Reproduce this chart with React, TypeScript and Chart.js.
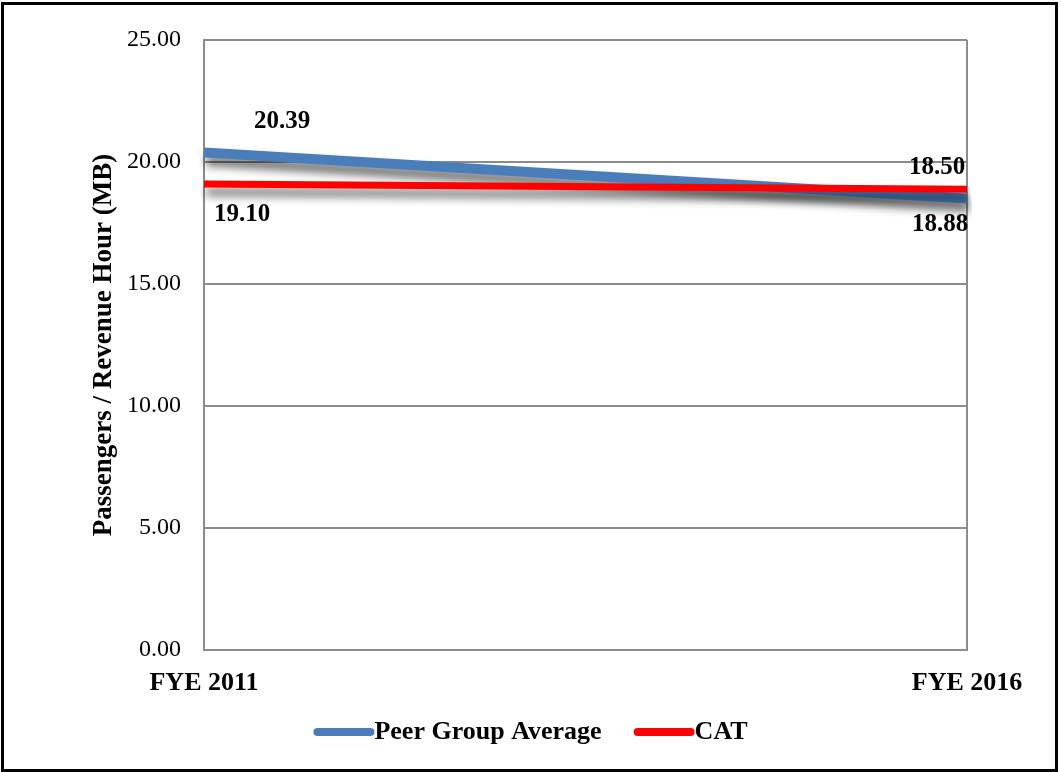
import React, { useEffect, useRef } from 'react';
import { Chart, registerables } from 'chart.js';

Chart.register(...registerables);

const categories = ['FYE 2011', 'FYE 2016'];
const peerGroupAverage = [20.39, 18.5];
const catValues = [19.1, 18.88];
const yTickValues = [0, 5, 10, 15, 20, 25];
const seriesNames = ['Peer Group Average', 'CAT'];
const yAxisTitle = 'Passengers / Revenue Hour (MB)';

const FONT = "'Liberation Serif', 'Times New Roman', serif";
const BLUE = '#4a7ebb';
const RED = '#ff0000';
const GRID = '#8c8c8c';

// label placement offsets (style only)
const labelOffsets = [
  [{ dx: 78, dy: -31 }, { dx: -30, dy: -31 }],
  [{ dx: 38, dy: 31 }, { dx: -27, dy: 35 }],
];

const shadowPlugin = {
  id: 'lineShadow',
  beforeDatasetDraw(chart: any) {
    const ctx = chart.ctx;
    ctx.save();
    ctx.shadowColor = 'rgba(0,0,0,0.6)';
    ctx.shadowBlur = 10;
    ctx.shadowOffsetX = 2;
    ctx.shadowOffsetY = 8;
  },
  afterDatasetDraw(chart: any) {
    chart.ctx.restore();
  },
};

const labelsPlugin = {
  id: 'valueLabels',
  afterDatasetsDraw(chart: any) {
    const ctx = chart.ctx;
    ctx.save();
    ctx.font = `bold 25px ${FONT}`;
    ctx.fillStyle = '#000';
    ctx.textAlign = 'center';
    ctx.textBaseline = 'middle';
    chart.data.datasets.forEach((ds: any, di: number) => {
      const meta = chart.getDatasetMeta(di);
      meta.data.forEach((pt: any, i: number) => {
        const off = labelOffsets[di][i];
        ctx.fillText(Number(ds.data[i]).toFixed(2), pt.x + off.dx, pt.y + off.dy);
      });
    });
    ctx.restore();
  },
};

const legendPlugin = {
  id: 'customLegend',
  afterDraw(chart: any) {
    const ctx = chart.ctx;
    ctx.save();
    ctx.font = `bold 26px ${FONT}`;
    ctx.textBaseline = 'middle';
    ctx.textAlign = 'left';
    const sample = 61;
    const gap = 32;
    const items = chart.data.datasets.map((ds: any) => ({
      label: ds.label,
      color: ds.borderColor,
      w: sample + ctx.measureText(ds.label).width,
    }));
    const total = items.reduce((s: number, it: any) => s + it.w, 0) + gap * (items.length - 1);
    let x = chart.width / 2 - total / 2;
    const y = 732;
    items.forEach((it: any) => {
      ctx.strokeStyle = it.color;
      ctx.lineWidth = 8;
      ctx.lineCap = 'round';
      ctx.beginPath();
      ctx.moveTo(x + 4, y);
      ctx.lineTo(x + sample - 4, y);
      ctx.stroke();
      ctx.fillStyle = '#000';
      ctx.fillText(it.label, x + sample, y);
      x += it.w + gap;
    });
    ctx.restore();
  },
};

export default function App() {
  const ref = useRef<HTMLCanvasElement | null>(null);
  useEffect(() => {
    if (!ref.current) return;
    const chart = new Chart(ref.current, {
      type: 'line',
      data: {
        labels: categories,
        datasets: [
          {
            label: seriesNames[0],
            data: peerGroupAverage,
            borderColor: BLUE,
            backgroundColor: BLUE,
            borderWidth: 10,
            pointRadius: 0,
            tension: 0,
            order: 1,
          },
          {
            label: seriesNames[1],
            data: catValues,
            borderColor: RED,
            backgroundColor: RED,
            borderWidth: 7,
            pointRadius: 0,
            tension: 0,
            order: 0,
          },
        ],
      },
      options: {
        responsive: false,
        animation: false,
        layout: { padding: { top: 40, right: 94, left: 0, bottom: 0 } },
        plugins: { legend: { display: false }, tooltip: { enabled: false } },
        scales: {
          x: {
            offset: false,
            grid: { color: GRID, lineWidth: 2, drawTicks: false },
            border: { color: GRID, width: 2 },
            ticks: {
              padding: 18,
              color: '#000',
              font: { family: FONT, size: 26, weight: 'bold' },
              maxRotation: 0,
            },
            afterFit(scale: any) {
              scale.height = 122;
            },
          },
          y: {
            min: 0,
            max: 25,
            grid: { color: GRID, lineWidth: 2, drawTicks: false },
            border: { color: GRID, width: 2 },
            afterBuildTicks(scale: any) {
              scale.ticks = yTickValues.map((v) => ({ value: v }));
            },
            ticks: {
              padding: 23,
              color: '#000',
              font: { family: FONT, size: 24 },
              callback: (v: any) => Number(v).toFixed(2),
            },
            title: {
              display: true,
              text: yAxisTitle,
              color: '#000',
              font: { family: FONT, size: 27, weight: 'bold' },
              padding: { top: 88, bottom: 0 },
            },
            afterFit(scale: any) {
              scale.width = 204;
            },
          },
        },
      },
      plugins: [shadowPlugin, labelsPlugin, legendPlugin],
    });
    return () => chart.destroy();
  }, []);
  return (
    <div style={{ position: 'fixed', left: 0, top: 0, width: 1061, height: 772, background: '#fff' }}>
      <canvas ref={ref} width={1061} height={772} style={{ position: 'absolute', left: 0, top: 0 }} />
      <div
        style={{
          position: 'absolute',
          left: 1,
          top: 2,
          width: 1057,
          height: 770,
          border: '3px solid #000',
          boxSizing: 'border-box',
          pointerEvents: 'none',
        }}
      />
    </div>
  );
}
